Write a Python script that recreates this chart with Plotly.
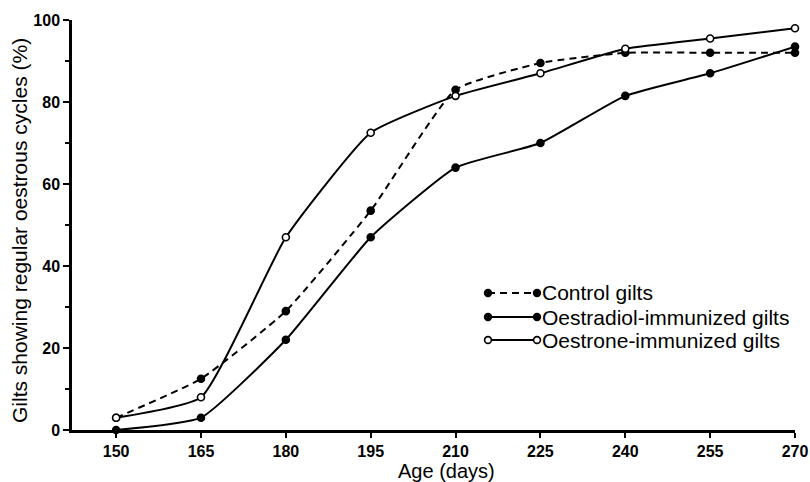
import plotly.graph_objects as go

ages = [150, 165, 180, 195, 210, 225, 240, 255, 270]
control = [3, 12.5, 29, 53.5, 83, 89.5, 92, 92, 92]
oestradiol = [0, 3, 22, 47, 64, 70, 81.5, 87, 93.5]
oestrone = [3, 8, 47, 72.5, 81.5, 87, 93, 95.5, 98]
x_ticks = [150, 165, 180, 195, 210, 225, 240, 255, 270]
y_ticks = [0, 20, 40, 60, 80, 100]
series_names = ["Control gilts", "Oestradiol-immunized gilts", "Oestrone-immunized gilts"]

FONT = "Liberation Sans, Arial, sans-serif"

# page body margin is removed (see post_script), so the figure fills the window exactly
W, H = 810, 482
X0, X1, Y0, Y1 = 72, 795, 20, 430  # plot area left, right, top, bottom in px
ml, mt, mr, mb = X0, Y0, W - X1, H - Y1
PW, PH = X1 - X0, Y1 - Y0


def px(x):
    return (x - X0) / PW


def py(y):
    return (Y1 - y) / PH


DASH = "7px,5px"
styles = [
    dict(dash=DASH, fill="black"),
    dict(dash="solid", fill="black"),
    dict(dash="solid", fill="white"),
]
series = [control, oestradiol, oestrone]

fig = go.Figure()
for name, vals, st in zip(series_names, series, styles):
    fig.add_trace(go.Scatter(
        x=ages, y=vals, name=name, mode="lines+markers",
        line=dict(color="black", width=2, dash=st["dash"], shape="spline", smoothing=0.45),
        marker=dict(symbol="circle", size=7, color=st["fill"], line=dict(color="black", width=1.6)),
        cliponaxis=False, showlegend=False))

# hand-drawn legend (line with a marker at each end, as in the original)
shapes = []
annotations = []
rows_px = [293, 317, 340]
lx0, lx1 = 488, 537
r = 3.4
for name, st, ry in zip(series_names, styles, rows_px):
    shapes.append(dict(type="line", xref="paper", yref="paper",
                       x0=px(lx0), x1=px(lx1), y0=py(ry), y1=py(ry),
                       line=dict(color="black", width=2, dash=st["dash"])))
    for cx in (lx0, lx1):
        shapes.append(dict(type="circle", xref="paper", yref="paper",
                           x0=px(cx - r), x1=px(cx + r), y0=py(ry + r), y1=py(ry - r),
                           fillcolor=st["fill"], line=dict(color="black", width=1.6)))
    annotations.append(dict(text=name, xref="paper", yref="paper", x=px(540), y=py(ry),
                            xanchor="left", yanchor="middle", showarrow=False,
                            font=dict(size=21, family=FONT, color="black")))

annotations.append(dict(text="Age (days)", xref="paper", yref="paper", x=px(446), y=py(471),
                        xanchor="center", yanchor="middle", showarrow=False,
                        font=dict(size=20, family=FONT, color="black")))
annotations.append(dict(text="Gilts showing regular oestrous cycles (%)", xref="paper", yref="paper",
                        x=px(19), y=py(231), textangle=-90,
                        xanchor="center", yanchor="middle", showarrow=False,
                        font=dict(size=21, family=FONT, color="black")))

fig.update_layout(
    width=W, height=H,
    margin=dict(l=ml, r=mr, t=mt, b=mb, pad=0),
    paper_bgcolor="white", plot_bgcolor="white",
    font=dict(family=FONT, color="black", size=14),
    shapes=shapes, annotations=annotations,
    xaxis=dict(range=[142.2, 270], tickvals=x_ticks, ticks="outside", ticklen=5,
               tickwidth=2, tickcolor="black", showline=True, linecolor="black", linewidth=2.5,
               showgrid=False, zeroline=False, automargin=False,
               tickfont=dict(size=16, family=FONT, weight="bold")),
    yaxis=dict(range=[0, 100], tickvals=y_ticks, ticks="outside", ticklen=6,
               tickwidth=2, tickcolor="black", showline=True, linecolor="black", linewidth=2.5,
               showgrid=False, zeroline=False, automargin=False,
               minor=dict(dtick=10, ticks="outside", ticklen=4, tickwidth=1.5, tickcolor="black"),
               tickfont=dict(size=16, family=FONT, weight="bold")),
)

fig.write_html("out.html",
               config={"displayModeBar": False},
               post_script="document.body.style.margin='0';document.body.style.overflow='hidden';")
